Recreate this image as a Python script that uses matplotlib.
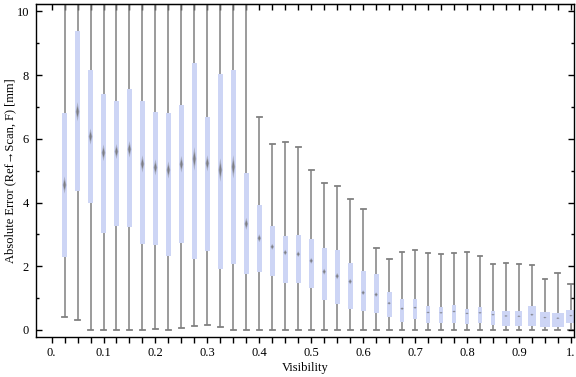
import numpy as np
import matplotlib.pyplot as plt
from matplotlib.patches import Polygon

# visibility bins (box positions)
visibility = [round(0.025 * i, 3) for i in range(1, 41)]

# box statistics [mm]
whisker_low = [0.40, 0.31, 0.0, 0.0, 0.0, 0.0, 0.0, 0.02, 0.0, 0.05,
               0.13, 0.16, 0.08, 0.0, 0.0, 0.0, 0.0, 0.0, 0.0, 0.0,
               0.0, 0.0, 0.0, 0.0, 0.0, 0.0, 0.0, 0.0, 0.0, 0.0,
               0.0, 0.0, 0.0, 0.0, 0.0, 0.0, 0.0, 0.0, 0.0, 0.0]
q1 = [2.30, 4.37, 3.99, 3.05, 3.27, 3.23, 2.69, 2.67, 2.32, 2.74,
      2.24, 2.48, 1.90, 2.07, 1.76, 1.83, 1.70, 1.48, 1.49, 1.33,
      0.95, 0.83, 0.65, 0.60, 0.53, 0.42, 0.25, 0.36, 0.23, 0.23,
      0.23, 0.20, 0.22, 0.16, 0.13, 0.13, 0.13, 0.10, 0.09, 0.23]
median = [4.55, 6.85, 6.07, 5.56, 5.60, 5.67, 5.21, 5.10, 5.02, 5.20,
          5.37, 5.23, 5.02, 5.12, 3.33, 2.88, 2.61, 2.43, 2.38, 2.17,
          1.83, 1.69, 1.52, 1.17, 1.11, 0.84, 0.67, 0.70, 0.55, 0.54,
          0.58, 0.52, 0.54, 0.48, 0.44, 0.43, 0.48, 0.39, 0.37, 0.45]
q3 = [6.80, 9.38, 8.16, 7.40, 7.18, 7.55, 7.18, 6.84, 6.81, 7.06,
      8.38, 6.68, 8.03, 8.16, 4.92, 3.92, 3.26, 2.95, 2.98, 2.86,
      2.56, 2.50, 2.10, 1.85, 1.76, 1.18, 0.97, 0.97, 0.75, 0.71,
      0.78, 0.66, 0.72, 0.60, 0.60, 0.60, 0.75, 0.56, 0.53, 0.63]
whisker_high = [13.0, 14.5, 13.5, 12.8, 13.2, 14.0, 12.6, 13.0, 12.5, 13.4,
                14.2, 12.9, 13.8, 14.1, 12.2, 6.67, 5.83, 5.89, 5.73, 5.01,
                4.60, 4.51, 4.10, 3.79, 2.56, 2.22, 2.44, 2.50, 2.41, 2.37,
                2.41, 2.44, 2.31, 2.06, 2.09, 2.06, 2.03, 1.59, 1.78, 1.43]

x_labels = ["0.", "0.1", "0.2", "0.3", "0.4", "0.5", "0.6", "0.7", "0.8", "0.9", "1."]

# drawing widths (data units)
box_w = [0.0092] * 34 + [0.014, 0.0135, 0.0155, 0.019, 0.023, 0.02]

box_col = '#cdd5f5'
wh_col = '#808080'
med_col = '#6a6a6a'

plt.rcParams['font.family'] = ['Liberation Serif', 'DejaVu Serif']

fig = plt.figure(figsize=(5.76, 3.77), dpi=100)
ax = fig.add_axes([0.0625, 0.1061, 0.934, 0.8833])

for x, lo, a, m, b, hi, w in zip(visibility, whisker_low, q1, median, q3, whisker_high, box_w):
    ax.plot([x, x], [lo, hi], color=wh_col, lw=1.1, zorder=1, solid_capstyle='butt')
    cw = 0.0092
    ax.plot([x - cw / 2, x + cw / 2], [lo, lo], color=wh_col, lw=1.3, zorder=1)
    ax.plot([x - cw / 2, x + cw / 2], [hi, hi], color=wh_col, lw=1.3, zorder=1)
    ax.bar(x, b - a, bottom=a, width=w, color=box_col, edgecolor='none', zorder=2)
    # blurred diamond median marker
    h = max(0.12 * (b - a), 0.06)
    dw = 0.0036
    for scale, alpha in [(1.0, 0.35), (0.6, 0.7)]:
        pts = [(x, m + h / 2 * scale), (x + dw * scale, m),
               (x, m - h / 2 * scale), (x - dw * scale, m)]
        ax.add_patch(Polygon(pts, closed=True, facecolor=med_col,
                             edgecolor='none', alpha=alpha, zorder=3))

ax.set_xlim(-0.030, 1.006)
ax.set_ylim(-0.22, 10.23)

ticks_x = np.arange(0, 41) * 0.025
ax.set_xticks(ticks_x)
ax.set_xticklabels([x_labels[i // 4] if i % 4 == 0 else '' for i in range(41)])
ax.tick_params(axis='x', which='major', direction='out', length=4, width=1,
               top=False, labelsize=9, pad=3)

sec = ax.secondary_xaxis('top')
sec.set_xticks(ticks_x)
sec.set_xticklabels([])
sec.tick_params(direction='in', length=4, width=1)

ax.set_yticks([0, 2, 4, 6, 8, 10])
ax.set_yticks([1, 3, 5, 7, 9], minor=True)
ax.tick_params(axis='y', which='both', direction='in', right=True, labelsize=9, pad=5)
ax.tick_params(axis='y', which='major', length=4, width=1)
ax.tick_params(axis='y', which='minor', length=2.5, width=1)

for s in ax.spines.values():
    s.set_linewidth(1)

ax.set_xlabel('Visibility', fontsize=9)
ax.set_ylabel('Absolute Error (Ref\u2192Scan, F) [mm]', fontsize=9)
ax.xaxis.set_label_coords(0.5, -0.075)
ax.yaxis.set_label_coords(-0.036, 0.5)

fig.savefig('out.png', dpi=100)
